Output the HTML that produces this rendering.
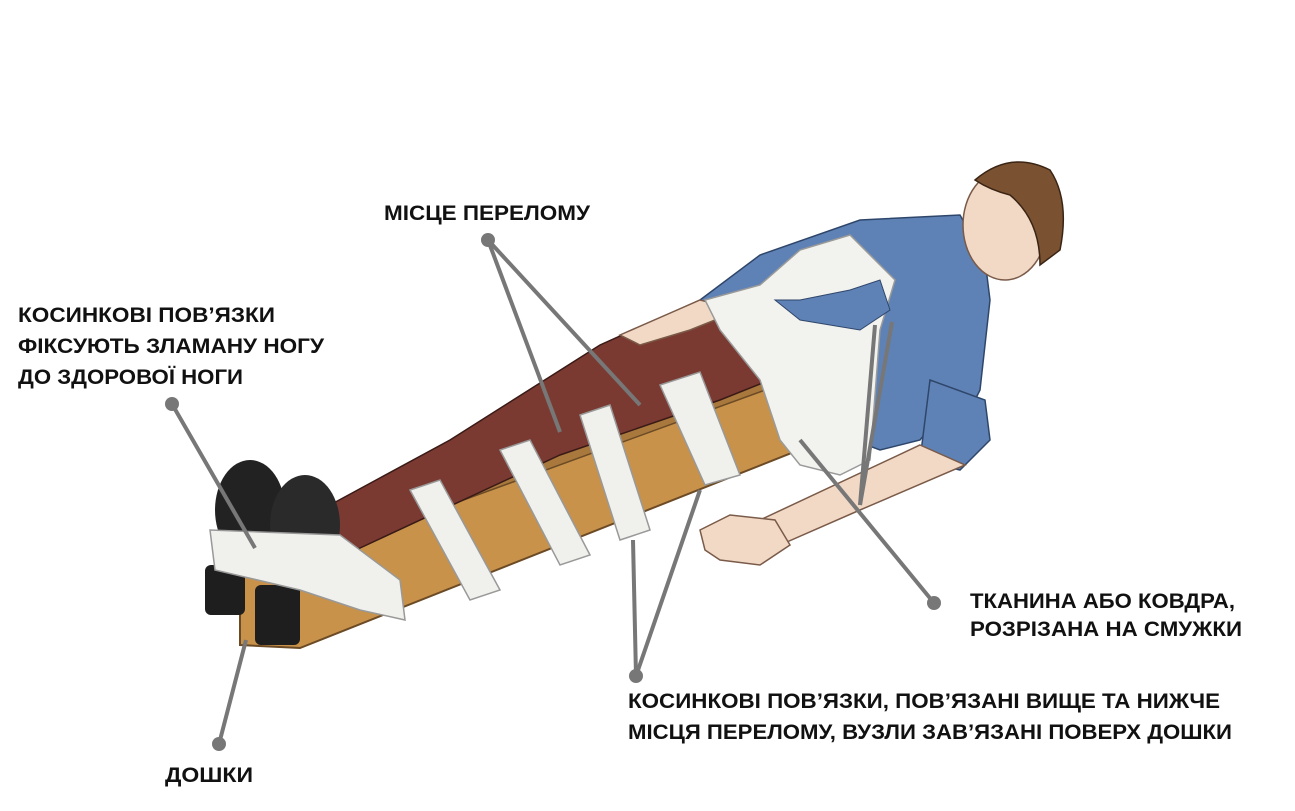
<!DOCTYPE html>
<html><head><meta charset="utf-8"><style>
html,body{margin:0;padding:0;background:#fff;}
svg{display:block}
text{font-family:"Liberation Sans Narrow","Liberation Sans",sans-serif;font-weight:bold;fill:#111;font-size:21px}
</style></head><body>
<svg width="1295" height="811" viewBox="0 0 1295 811" xmlns="http://www.w3.org/2000/svg">
<!-- board -->
<polygon points="240,578 330,508 915,318 930,330 930,398 300,648 240,645" fill="#c8924a" stroke="#6b4a25" stroke-width="2"/>
<polygon points="240,578 330,508 915,318 930,330 340,545" fill="#a8783c" stroke="#6b4a25" stroke-width="1.5"/>
<!-- legs -->
<polygon points="330,505 450,440 600,345 700,300 745,310 770,380 720,400 560,455 345,555" fill="#7a3a32" stroke="#3a1a16" stroke-width="1.5"/>
<!-- shirt / torso -->
<polygon points="700,300 760,255 860,220 960,215 985,260 990,300 980,390 960,430 945,410 920,440 880,450 800,420 760,380" fill="#5e82b5" stroke="#2f466b" stroke-width="1.5"/>
<polygon points="930,380 985,400 990,440 960,470 920,460" fill="#5e82b5" stroke="#2f466b" stroke-width="1.5"/>
<!-- arm and hand -->
<polygon points="920,445 965,465 860,510 780,545 760,520" fill="#f2d9c6" stroke="#7a5a48" stroke-width="1.5"/>
<polygon points="700,530 730,515 775,520 790,545 760,565 720,560 705,550" fill="#f2d9c6" stroke="#7a5a48" stroke-width="1.5"/>
<polygon points="620,335 700,300 740,310 690,330 640,345" fill="#f2d9c6" stroke="#7a5a48" stroke-width="1.5"/>
<!-- head -->
<ellipse cx="1005" cy="225" rx="42" ry="55" fill="#f2d9c6" stroke="#7a5a48" stroke-width="1.5"/>
<path d="M975,180 Q1010,150 1050,170 Q1070,200 1060,250 L1040,265 Q1040,220 1010,195 Q990,190 975,180Z" fill="#7a5232" stroke="#3a2414" stroke-width="1.5"/>
<!-- torso sheet -->
<polygon points="705,300 760,285 800,250 850,235 895,280 880,330 870,460 840,475 800,465 780,440 760,380 720,330" fill="#f2f2ee" stroke="#9a9a9a" stroke-width="1.5"/>
<polygon points="775,300 800,300 850,290 880,280 890,310 860,330 800,320" fill="#5e82b5" stroke="#2f466b" stroke-width="1"/>
<!-- bandages on legs -->
<g fill="#f0f0ec" stroke="#999" stroke-width="1.5">
<polygon points="410,490 440,480 500,590 470,600"/>
<polygon points="500,450 530,440 590,555 560,565"/>
<polygon points="580,415 610,405 650,530 620,540"/>
<polygon points="660,385 700,372 740,475 705,485"/>
</g>
<!-- feet / shoes -->
<ellipse cx="250" cy="510" rx="35" ry="50" fill="#222"/>
<ellipse cx="305" cy="525" rx="35" ry="50" fill="#2a2a2a"/>
<rect x="205" y="565" width="40" height="50" rx="6" fill="#1e1e1e"/>
<rect x="255" y="585" width="45" height="60" rx="6" fill="#1e1e1e"/>
<polygon points="210,530 340,535 400,580 405,620 360,610 300,590 215,570" fill="#f0f0ec" stroke="#999" stroke-width="1.5"/>
<!-- leader lines -->
<g stroke="#777" stroke-width="4" fill="none">
<line x1="488" y1="240" x2="560" y2="432"/>
<line x1="488" y1="240" x2="640" y2="405"/>
<line x1="172" y1="404" x2="255" y2="548"/>
<line x1="219" y1="744" x2="246" y2="640"/>
<line x1="636" y1="676" x2="633" y2="540"/>
<line x1="636" y1="676" x2="700" y2="490"/>
<line x1="934" y1="603" x2="800" y2="440"/>
<line x1="860" y1="505" x2="875" y2="325"/>
<line x1="860" y1="505" x2="892" y2="322"/>
</g>
<g fill="#777">
<circle cx="488" cy="240" r="7"/><circle cx="172" cy="404" r="7"/><circle cx="219" cy="744" r="7"/>
<circle cx="636" cy="676" r="7"/><circle cx="934" cy="603" r="7"/>
</g>
<!-- labels -->
<text x="384" y="220" textLength="206" lengthAdjust="spacingAndGlyphs">МІСЦЕ ПЕРЕЛОМУ</text>
<text x="18" y="322" textLength="257" lengthAdjust="spacingAndGlyphs">КОСИНКОВІ ПОВ’ЯЗКИ</text>
<text x="18" y="353" textLength="306" lengthAdjust="spacingAndGlyphs">ФІКСУЮТЬ ЗЛАМАНУ НОГУ</text>
<text x="18" y="384" textLength="225" lengthAdjust="spacingAndGlyphs">ДО ЗДОРОВОЇ НОГИ</text>
<text x="165" y="782" textLength="88" lengthAdjust="spacingAndGlyphs">ДОШКИ</text>
<text x="970" y="608" textLength="265" lengthAdjust="spacingAndGlyphs">ТКАНИНА АБО КОВДРА,</text>
<text x="970" y="636" textLength="272" lengthAdjust="spacingAndGlyphs">РОЗРІЗАНА НА СМУЖКИ</text>
<text x="628" y="708" textLength="592" lengthAdjust="spacingAndGlyphs">КОСИНКОВІ ПОВ’ЯЗКИ, ПОВ’ЯЗАНІ ВИЩЕ ТА НИЖЧЕ</text>
<text x="628" y="739" textLength="604" lengthAdjust="spacingAndGlyphs">МІСЦЯ ПЕРЕЛОМУ, ВУЗЛИ ЗАВ’ЯЗАНІ ПОВЕРХ ДОШКИ</text>
</svg>
</body></html>
